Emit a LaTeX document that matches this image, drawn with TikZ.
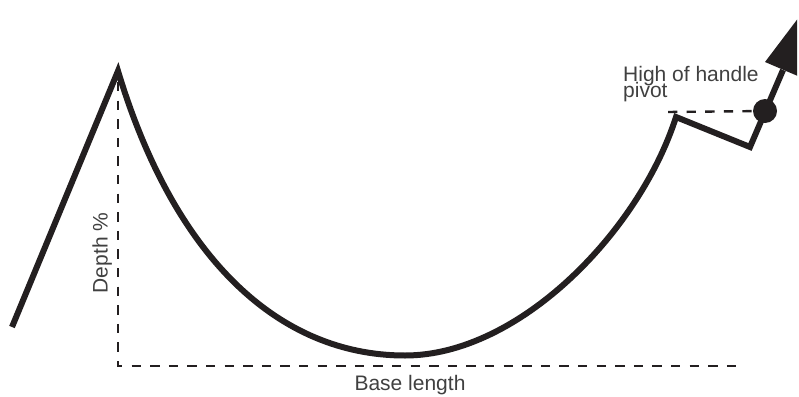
\documentclass[tikz,border=0pt]{standalone}
\usepackage{fontspec}
\setmainfont{Liberation Sans}
\begin{document}
\begin{tikzpicture}[x=1pt,y=-1pt,
  curve/.style={draw=linecol,line width=6pt,line join=miter,miter limit=20},
  guide/.style={draw=linecol,line width=2.4pt,dash pattern=on 9.3pt off 9.3pt},
  lbl/.style={text=txtcol,inner sep=0pt,font=\fontsize{21}{21}\selectfont}]
\lineskiplimit=-50pt\relax
\definecolor{linecol}{RGB}{35,31,32}
\definecolor{txtcol}{RGB}{64,64,64}
\useasboundingbox (0,0) rectangle (799,396);
% key points
\coordinate (start) at (12,327);
\coordinate (peak) at (118,71);
\coordinate (bottom) at (405,355.5);
\coordinate (hitop) at (676,117);
\coordinate (hilow) at (750,147);
\coordinate (pivot) at (765,111);
\coordinate (shaftend) at (783,70);
\coordinate (baseL) at (118,366);
\coordinate (baseR) at (745,366);
\coordinate (peakdash) at (118,82);
\coordinate (hdash) at (668,112);
% guides
\draw[guide] (peakdash) -- (baseL) -- (baseR);
\draw[guide] (hdash) -- (pivot);
% price path
\draw[curve] (start) -- (peak)
  .. controls (175,260) and (280,355.5) .. (bottom)
  .. controls (520,355.5) and (640,230) .. (hitop)
  -- (hilow) -- (shaftend);
\fill[linecol] (pivot) circle (12pt);
% arrow head
\begin{scope}
\clip (0,0) rectangle (797,396);
\fill[linecol] (765,62) -- (801.5,77.6) -- (814.6,-3.6) -- cycle;
\end{scope}
% labels
\node[lbl,anchor=base west,align=left,font=\fontsize{21}{16}\selectfont] (hh) at (623,97) {High of handle\\pivot};
\node[lbl,anchor=base] (base) at (410,390) {Base length};
\node[lbl,anchor=base,rotate=90] (depth) at (107.5,253) {Depth \%};
\end{tikzpicture}
\end{document}
